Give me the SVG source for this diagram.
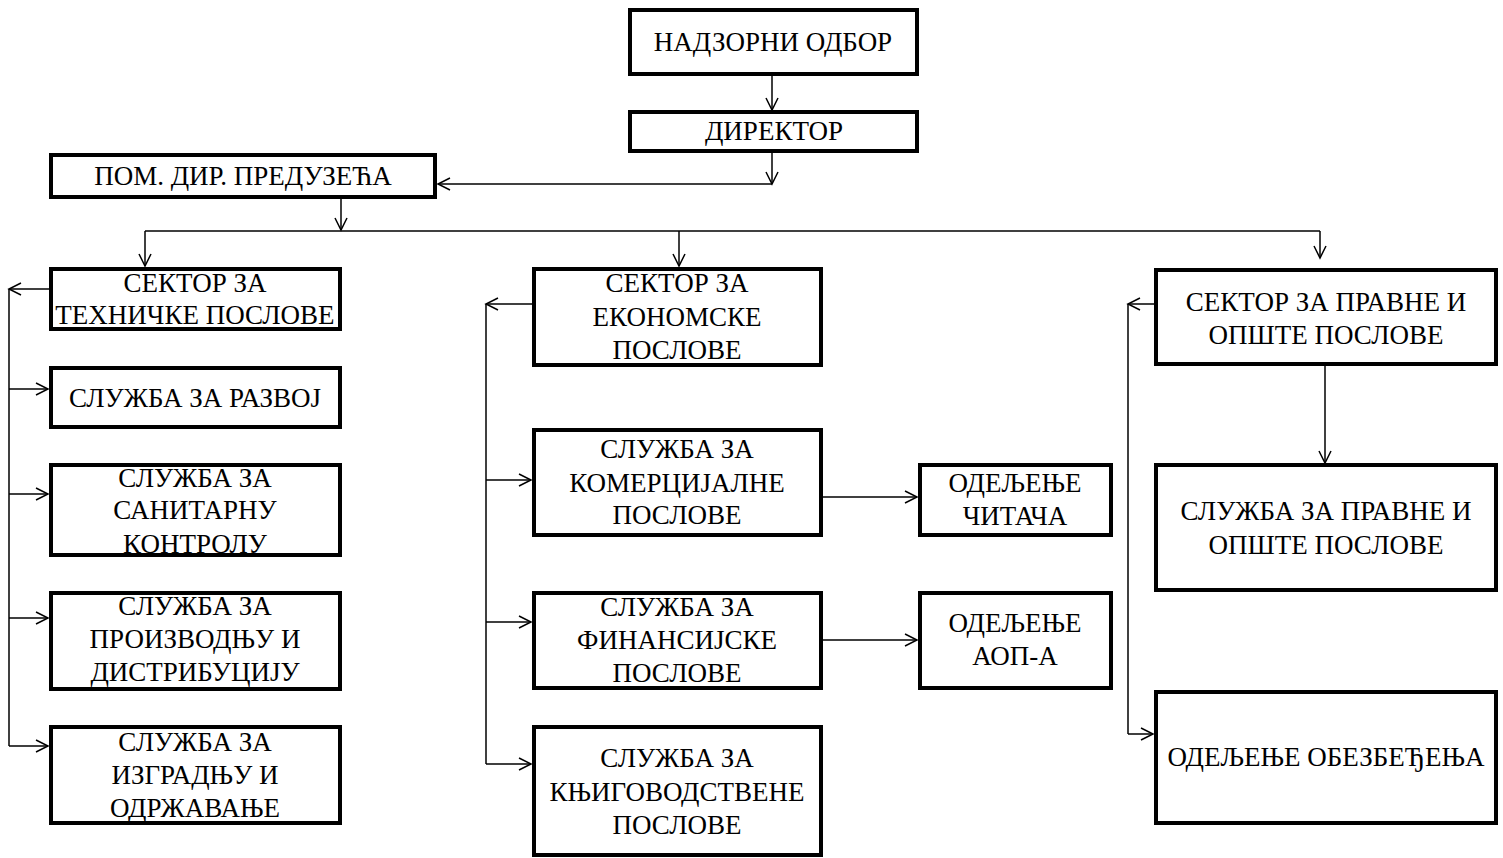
<svg xmlns="http://www.w3.org/2000/svg" width="1503" height="858" viewBox="0 0 1503 858">
<defs>
<style>
.box{fill:#fff;stroke:#000;stroke-width:4}
.t{font-family:"Liberation Serif","Times New Roman",serif;font-size:27px;fill:#000;text-anchor:middle}
.c{fill:none;stroke:#000;stroke-width:1.5}
</style>
<marker id="a" markerUnits="userSpaceOnUse" markerWidth="14" markerHeight="14" refX="12" refY="6" orient="auto" overflow="visible">
<path d="M0,0 L12,6 L0,12" fill="none" stroke="#000" stroke-width="1.5"/>
</marker>
</defs>
<rect width="1503" height="858" fill="#fff"/>
<g id="connectors">
<line class="c" x1="772" y1="76" x2="772" y2="110" marker-end="url(#a)"/>
<line class="c" x1="772" y1="153" x2="772" y2="184" marker-end="url(#a)"/>
<line class="c" x1="772" y1="184" x2="438" y2="184" marker-end="url(#a)"/>
<line class="c" x1="341" y1="199" x2="341" y2="230" marker-end="url(#a)"/>
<line class="c" x1="145" y1="231" x2="1320" y2="231"/>
<line class="c" x1="145" y1="231" x2="145" y2="266" marker-end="url(#a)"/>
<line class="c" x1="679" y1="231" x2="679" y2="266" marker-end="url(#a)"/>
<line class="c" x1="1320" y1="231" x2="1320" y2="258" marker-end="url(#a)"/>
<line class="c" x1="49" y1="289" x2="9" y2="289" marker-end="url(#a)"/>
<line class="c" x1="9" y1="289" x2="9" y2="746"/>
<line class="c" x1="9" y1="389" x2="48" y2="389" marker-end="url(#a)"/>
<line class="c" x1="9" y1="494" x2="48" y2="494" marker-end="url(#a)"/>
<line class="c" x1="9" y1="618" x2="48" y2="618" marker-end="url(#a)"/>
<line class="c" x1="9" y1="746" x2="48" y2="746" marker-end="url(#a)"/>
<line class="c" x1="532" y1="304" x2="486" y2="304" marker-end="url(#a)"/>
<line class="c" x1="486" y1="304" x2="486" y2="764"/>
<line class="c" x1="486" y1="480" x2="531" y2="480" marker-end="url(#a)"/>
<line class="c" x1="486" y1="622" x2="531" y2="622" marker-end="url(#a)"/>
<line class="c" x1="486" y1="764" x2="531" y2="764" marker-end="url(#a)"/>
<line class="c" x1="823" y1="497" x2="917" y2="497" marker-end="url(#a)"/>
<line class="c" x1="823" y1="640" x2="917" y2="640" marker-end="url(#a)"/>
<line class="c" x1="1154" y1="304" x2="1128" y2="304" marker-end="url(#a)"/>
<line class="c" x1="1128" y1="304" x2="1128" y2="734"/>
<line class="c" x1="1128" y1="734" x2="1153" y2="734" marker-end="url(#a)"/>
<line class="c" x1="1325" y1="366" x2="1325" y2="463" marker-end="url(#a)"/>
</g>
<g id="n-nadzorni"><rect class="box" x="630" y="10" width="287" height="64"/><text class="t" x="773" y="51">НАДЗОРНИ ОДБОР</text></g>
<g id="n-direktor"><rect class="box" x="630" y="112" width="287" height="39"/><text class="t" x="774" y="140">ДИРЕКТОР</text></g>
<g id="n-pom"><rect class="box" x="51" y="155" width="384" height="42"/><text class="t" x="243" y="185">ПОМ. ДИР. ПРЕДУЗЕЋА</text></g>
<g id="n-tehn"><rect class="box" x="51" y="269" width="289" height="60"/><text class="t" x="195" y="292">СЕКТОР ЗА</text><text class="t" x="195" y="324">ТЕХНИЧКЕ ПОСЛОВЕ</text></g>
<g id="n-razvoj"><rect class="box" x="51" y="368" width="289" height="59"/><text class="t" x="195" y="407">СЛУЖБА ЗА РАЗВОЈ</text></g>
<g id="n-sanit"><rect class="box" x="51" y="465" width="289" height="90"/><text class="t" x="195" y="487">СЛУЖБА ЗА</text><text class="t" x="195" y="519">САНИТАРНУ</text><text class="t" x="195" y="553">КОНТРОЛУ</text></g>
<g id="n-proizv"><rect class="box" x="51" y="593" width="289" height="96"/><text class="t" x="195" y="615">СЛУЖБА ЗА</text><text class="t" x="195" y="648">ПРОИЗВОДЊУ И</text><text class="t" x="195" y="681">ДИСТРИБУЦИЈУ</text></g>
<g id="n-izgr"><rect class="box" x="51" y="727" width="289" height="96"/><text class="t" x="195" y="751">СЛУЖБА ЗА</text><text class="t" x="195" y="784">ИЗГРАДЊУ И</text><text class="t" x="195" y="817">ОДРЖАВАЊЕ</text></g>
<g id="n-ekon"><rect class="box" x="534" y="269" width="287" height="96"/><text class="t" x="677" y="292">СЕКТОР ЗА</text><text class="t" x="677" y="326">ЕКОНОМСКЕ</text><text class="t" x="677" y="359">ПОСЛОВЕ</text></g>
<g id="n-komerc"><rect class="box" x="534" y="430" width="287" height="105"/><text class="t" x="677" y="458">СЛУЖБА ЗА</text><text class="t" x="677" y="492">КОМЕРЦИЈАЛНЕ</text><text class="t" x="677" y="524">ПОСЛОВЕ</text></g>
<g id="n-finans"><rect class="box" x="534" y="593" width="287" height="95"/><text class="t" x="677" y="616">СЛУЖБА ЗА</text><text class="t" x="677" y="649">ФИНАНСИЈСКЕ</text><text class="t" x="677" y="682">ПОСЛОВЕ</text></g>
<g id="n-knjig"><rect class="box" x="534" y="727" width="287" height="128"/><text class="t" x="677" y="767">СЛУЖБА ЗА</text><text class="t" x="677" y="801">КЊИГОВОДСТВЕНЕ</text><text class="t" x="677" y="834">ПОСЛОВЕ</text></g>
<g id="n-citaca"><rect class="box" x="920" y="465" width="191" height="70"/><text class="t" x="1015" y="492">ОДЕЉЕЊЕ</text><text class="t" x="1015" y="525">ЧИТАЧА</text></g>
<g id="n-aop"><rect class="box" x="920" y="593" width="191" height="95"/><text class="t" x="1015" y="632">ОДЕЉЕЊЕ</text><text class="t" x="1015" y="665">АОП-А</text></g>
<g id="n-pravne-s"><rect class="box" x="1156" y="270" width="340" height="94"/><text class="t" x="1326" y="311">СЕКТОР ЗА ПРАВНЕ И</text><text class="t" x="1326" y="344">ОПШТЕ ПОСЛОВЕ</text></g>
<g id="n-pravne-sl"><rect class="box" x="1156" y="465" width="340" height="125"/><text class="t" x="1326" y="520">СЛУЖБА ЗА ПРАВНЕ И</text><text class="t" x="1326" y="554">ОПШТЕ ПОСЛОВЕ</text></g>
<g id="n-obezb"><rect class="box" x="1156" y="692" width="340" height="131"/><text class="t" x="1326" y="766">ОДЕЉЕЊЕ ОБЕЗБЕЂЕЊА</text></g>
</svg>
